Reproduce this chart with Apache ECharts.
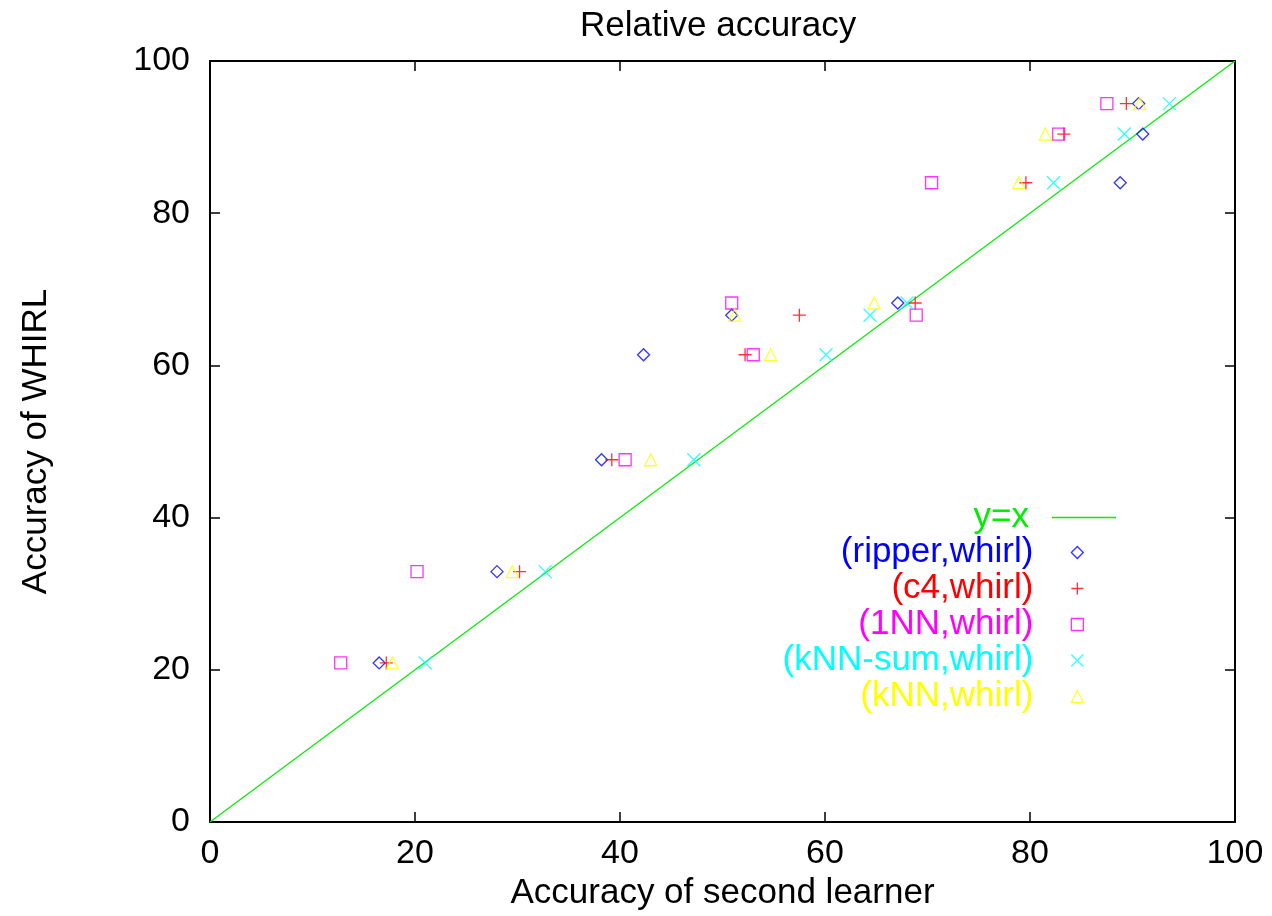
<!DOCTYPE html>
<html>
<head>
<meta charset="utf-8">
<style>
  html, body { margin: 0; padding: 0; background: #fff; }
  #chart { width: 1272px; height: 916px; }
</style>
<script src="https://cdn.jsdelivr.net/npm/echarts@6/dist/echarts.min.js"></script>
</head>
<body>
<div id="chart"></div>
<script>
// Accuracy of the second learner (x) against accuracy of WHIRL (y), per dataset
const whirlAcc = [20.9, 32.9, 47.6, 61.4, 66.6, 68.2, 84.0, 90.4, 94.4];
const ripperAcc = [16.5, 28.0, 38.2, 42.3, 50.9, 67.1, 88.8, 91.0, 90.6];
const c4Acc     = [17.2, 30.2, 39.2, 52.2, 57.5, 68.8, 79.6, 83.3, 89.4];
const nn1Acc    = [12.75, 20.2, 40.5, 53.0, 68.9, 50.9, 70.4, 82.8, 87.5];
const knnSumAcc = [21.0, 32.7, 47.2, 60.1, 64.4, 68.0, 82.3, 89.2, 93.6];
const knnAcc    = [17.8, 29.5, 43.0, 54.7, 51.2, 64.8, 78.9, 81.5, 90.7];
const diagonal  = [[0, 0], [100, 100]];
const axisTicks = [0, 20, 40, 60, 80, 100];

const seriesNames = ['(ripper,whirl)', '(c4,whirl)', '(1NN,whirl)', '(kNN-sum,whirl)', '(kNN,whirl)'];
const seriesX = [ripperAcc, c4Acc, nn1Acc, knnSumAcc, knnAcc];
const seriesColors = ['#0000ff', '#ff0000', '#ff00ff', '#00ffff', '#ffff00'];
const PLUS = 'path://M0,5L10,5M5,0L5,10';
const CROSS = 'path://M0,0L10,10M10,0L0,10';
const seriesSymbols = ['diamond', PLUS, 'rect', CROSS, 'triangle'];
const seriesSizes = [12, 13, 12, 13, 12];
const lineColor = '#00ee00';

const FONT = '"Liberation Sans", Arial, Helvetica, sans-serif';
const FS_TICK = 34;
const FS_TEXT = 35;

const pairs = xs => xs.map((x, i) => [x, whirlAcc[i]]);

const scatterSeries = seriesNames.map((name, k) => ({
  name,
  type: 'scatter',
  data: pairs(seriesX[k]),
  symbol: seriesSymbols[k],
  symbolSize: seriesSizes[k],
  itemStyle: { color: 'rgba(0,0,0,0)', borderColor: seriesColors[k], borderWidth: 1.3 },
  emphasis: { disabled: true },
  z: 3
}));

const axisCommon = {
  type: 'value', min: 0, max: 100, interval: 20,
  axisLine: { show: true, onZero: false, lineStyle: { color: '#000', width: 2 } },
  axisTick: { show: true, inside: true, length: 10, lineStyle: { color: '#000', width: 1.5 } },
  splitLine: { show: false },
  axisLabel: { color: '#000', fontSize: FS_TICK, fontFamily: FONT }
};

const option = {
  backgroundColor: '#fff',
  animation: false,
  textStyle: { fontFamily: FONT },
  title: {
    text: 'Relative accuracy',
    left: 580, top: 9, padding: 0,
    textStyle: { fontSize: FS_TEXT, fontWeight: 'normal', color: '#000', fontFamily: FONT }
  },
  grid: { left: 210, right: 37, top: 61, bottom: 94 },
  xAxis: [
    Object.assign({}, axisCommon, {
      position: 'bottom',
      name: 'Accuracy of second learner', nameLocation: 'middle', nameGap: 48,
      nameTextStyle: { fontSize: FS_TEXT, color: '#000', fontFamily: FONT },
      axisLabel: Object.assign({}, axisCommon.axisLabel, { margin: 15 })
    }),
    Object.assign({}, axisCommon, { position: 'top', axisLabel: { show: false } })
  ],
  yAxis: [
    Object.assign({}, axisCommon, {
      position: 'left',
      name: 'Accuracy of WHIRL', nameLocation: 'middle', nameGap: 156,
      nameTextStyle: { fontSize: FS_TEXT, color: '#000', fontFamily: FONT },
      axisLabel: Object.assign({}, axisCommon.axisLabel, { margin: 20 })
    }),
    Object.assign({}, axisCommon, { position: 'right', axisLabel: { show: false } })
  ],
  legend: [
    {
      data: [{
        name: 'y=x', icon: 'rect',
        itemStyle: { color: lineColor, borderWidth: 0 },
        textStyle: { color: lineColor }
      }],
      right: 156, top: 500, padding: 0,
      itemWidth: 64, itemHeight: 1.3, align: 'right',
      selectedMode: false,
      textStyle: { fontSize: FS_TEXT, fontFamily: FONT, padding: [0, 18, 0, 0] }
    },
    {
      data: seriesNames.map((n, k) => ({
        name: n,
        icon: seriesSymbols[k],
        itemStyle: { color: 'rgba(0,0,0,0)', borderColor: seriesColors[k], borderWidth: 1.3 },
        textStyle: { color: seriesColors[k] }
      })),
      orient: 'vertical', align: 'right',
      right: 188, top: 535, padding: 0,
      itemWidth: 12, itemHeight: 12, itemGap: 1,
      selectedMode: false,
      textStyle: { fontSize: FS_TEXT, fontFamily: FONT, padding: [0, 33, 0, 0] }
    }
  ],
  series: [
    {
      name: 'y=x',
      type: 'line',
      data: diagonal,
      symbol: 'none',
      lineStyle: { color: lineColor, width: 1.2 },
      itemStyle: { color: lineColor },
      emphasis: { disabled: true },
      z: 2
    }
  ].concat(scatterSeries)
};

const chart = echarts.init(document.getElementById('chart'), null, { renderer: 'canvas' });
chart.setOption(option);
</script>
</body>
</html>
